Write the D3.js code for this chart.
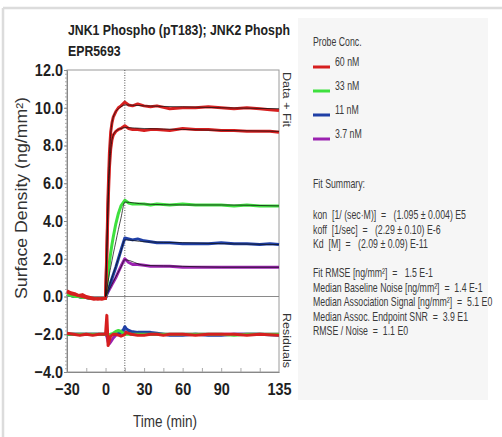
<!DOCTYPE html>
<html>
<head>
<meta charset="utf-8">
<script src="https://cdn.jsdelivr.net/npm/d3@7"></script>
<style>
  body { margin: 0; background: #fff; }
  text { font-family: "Liberation Sans", Arial, sans-serif; fill: #222; white-space: pre; }
  .tick text { font-weight: bold; font-size: 17px; fill: #1e1e1e; }
  .panel text { font-size: 12px; fill: #3a3a3a; }
</style>
</head>
<body>
<script>
// ---- data ----
const concs = ["60 nM", "33 nM", "11 nM", "3.7 nM"]
const colors = ["#d61f1f", "#3ee03e", "#1f3fa6", "#9b22b0"]

const tData = [-30, -27, -24, -21, -18, -15, -12, -9, -6, -3, 0, 1, 2, 3, 4, 5, 6, 8, 10, 12, 15,
  18, 21, 25, 30, 35, 40, 50, 60, 70, 80, 90, 100, 110, 120, 128, 135]
const red1 = [0.3, 0.2, 0.15, 0.05, 0.1, 0.0, -0.05, -0.1, -0.15, -0.1, -0.1, 2.5, 5.5, 7.6, 8.7, 9.2, 9.5, 9.8, 10.0, 10.1, 10.3,
  10.15, 10.1, 10.2, 10.1, 10.05, 10.1, 9.95, 10.0, 10.0, 10.05, 10.0, 9.95, 10.0, 9.95, 9.9, 9.85]
const red2 = [0.25, 0.15, 0.1, 0.05, 0.0, -0.05, -0.1, -0.15, -0.1, -0.15, -0.1, 2.2, 4.9, 6.8, 7.8, 8.3, 8.55, 8.75, 8.85, 8.9, 9.05,
  8.9, 8.85, 8.85, 8.8, 8.85, 8.85, 8.8, 8.9, 8.85, 8.85, 8.8, 8.8, 8.75, 8.75, 8.75, 8.7]
const green = [0.1, 0.05, 0.0, 0.0, -0.05, -0.05, -0.1, -0.1, -0.1, -0.1, -0.1, 0.6, 1.2, 1.8, 2.3, 2.75, 3.15, 3.85, 4.4, 4.8, 5.1,
  4.95, 4.9, 4.9, 4.9, 4.85, 4.9, 4.85, 4.9, 4.85, 4.85, 4.85, 4.8, 4.85, 4.8, 4.8, 4.8]
const blue = [0.1, 0.05, 0.0, 0.0, -0.05, -0.05, -0.1, -0.1, -0.1, -0.1, -0.1, 0.15, 0.35, 0.55, 0.75, 0.95, 1.15, 1.55, 2.0, 2.45, 3.1,
  3.05, 3.0, 3.05, 2.95, 2.9, 2.85, 2.85, 2.8, 2.8, 2.8, 2.85, 2.8, 2.8, 2.75, 2.8, 2.75]
const purple = [0.1, 0.05, 0.0, 0.0, -0.05, -0.05, -0.1, -0.1, -0.1, -0.1, -0.1, 0.12, 0.25, 0.38, 0.5, 0.63, 0.75, 1.0, 1.3, 1.6, 2.0,
  1.8, 1.7, 1.7, 1.65, 1.6, 1.6, 1.6, 1.55, 1.55, 1.55, 1.55, 1.55, 1.55, 1.55, 1.55, 1.55]

const tFit = [0, 1, 2, 3, 4, 5, 6, 8, 10, 12, 15, 30, 60, 90, 135]
const fitRed1 = [0, 2.6, 5.4, 7.4, 8.6, 9.2, 9.5, 9.8, 9.95, 10.05, 10.15, 10.1, 10.05, 10.0, 9.95]
const fitRed2 = [0, 2.3, 4.8, 6.6, 7.7, 8.3, 8.55, 8.75, 8.85, 8.9, 8.95, 8.9, 8.85, 8.8, 8.75]
const fitGreen = [0, 0.4, 0.8, 1.2, 1.55, 1.9, 2.25, 2.9, 3.55, 4.15, 5.0, 4.9, 4.85, 4.85, 4.8]
const fitBlue = [0, 0.2, 0.4, 0.6, 0.8, 1.0, 1.2, 1.6, 2.0, 2.4, 3.0, 2.9, 2.85, 2.8, 2.75]
const fitPurple = [0, 0.13, 0.26, 0.39, 0.52, 0.65, 0.78, 1.04, 1.3, 1.56, 1.95, 1.65, 1.6, 1.55, 1.55]

const tRes = [-30, -25, -20, -15, -10, -5, 0, 1, 2, 3, 4, 6, 8, 10, 12, 14, 15, 16, 18, 20, 25, 30, 35, 40, 45, 50,
  60, 70, 80, 90, 100, 110, 120, 135]
const resRed = [-1.95, -2.0, -2.05, -2.0, -2.05, -2.0, -2.0, -1.0, -2.6, -2.3, -2.1, -2.0, -2.0, -2.05, -2.1, -2.05, -2.0, -1.9,
  -1.95, -2.0, -2.05, -2.05, -2.0, -2.0, -2.05, -2.0, -2.0, -2.05, -2.0, -2.0, -2.0, -2.05, -2.0, -2.05]
const resGreen = [-2.0, -2.0, -2.0, -2.0, -2.0, -2.0, -2.0, -1.9, -2.0, -2.05, -2.0, -1.95, -1.85, -1.8, -1.85, -1.95, -2.0, -2.0,
  -2.0, -2.0, -2.0, -2.0, -2.0, -2.0, -2.0, -2.0, -2.0, -2.0, -2.0, -2.0, -2.05, -2.0, -2.0, -2.0]
const resBlue = [-2.0, -2.0, -2.0, -2.0, -2.0, -2.0, -2.0, -2.05, -2.1, -2.1, -2.05, -2.0, -2.0, -1.95, -1.9, -1.75, -1.6, -1.7,
  -1.8, -1.85, -1.9, -1.9, -1.9, -1.95, -2.0, -2.05, -2.05, -2.0, -2.05, -2.05, -2.0, -2.0, -2.0, -2.05]
const resPurple = [-2.0, -2.0, -2.0, -2.0, -2.0, -2.0, -2.0, -2.1, -2.4, -2.5, -2.4, -2.2, -2.05, -2.0, -1.95, -1.9, -1.85, -1.9,
  -1.95, -2.0, -2.0, -2.0, -2.0, -2.0, -2.0, -2.0, -2.0, -2.0, -2.0, -2.0, -2.0, -2.0, -2.0, -2.0]

const yTicks = [-4, -2, 0, 2, 4, 6, 8, 10, 12]
const xTicks = [-30, 0, 30, 60, 90, 135]
const titleLines = ["JNK1 Phospho (pT183); JNK2 Phosph", "EPR5693"]
const fitSummary = [
  "kon  [1/ (sec\u00b7M)]  =   (1.095 \u00b1 0.004) E5",
  "koff  [1/sec]  =   (2.29 \u00b1 0.10) E-6",
  "Kd  [M]  =   (2.09 \u00b1 0.09) E-11"
]
const fitStats = [
  "Fit RMSE [ng/mm\u00b2]  =   1.5 E-1",
  "Median Baseline Noise [ng/mm\u00b2]  =  1.4 E-1",
  "Median Association Signal [ng/mm\u00b2]  =  5.1 E0",
  "Median Assoc. Endpoint SNR  =  3.9 E1",
  "RMSE / Noise  =  1.1 E0"
]

// ---- drawing ----
let [w, h] = [502, 437]
var svg = d3.select("body").append("svg").attr("width", w).attr("height", h)

// narrow-font look: squeeze rendered text horizontally
function squeeze(sel, k) {
  sel.each(function () {
    var L = this.getComputedTextLength()
    d3.select(this).attr("textLength", L * k).attr("lengthAdjust", "spacingAndGlyphs")
  })
}
// same idea, done with a transform
function narrowText(g, tx, ty, str, k) {
  return g.append("text").attr("transform", `translate(${tx},${ty}) scale(${k},1)`).text(str)
}

// frame of the screenshot
svg.append("line").attr("x1", 3).attr("x2", w).attr("y1", 8).attr("y2", 8).attr("stroke", "#dcdcdc").attr("stroke-width", 2.5)
svg.append("line").attr("x1", 3).attr("x2", 3).attr("y1", 8).attr("y2", h).attr("stroke", "#dcdcdc").attr("stroke-width", 2.5)

// right panel background
svg.append("rect").attr("x", 298).attr("y", 18).attr("width", 190).attr("height", 382).attr("fill", "#f6f6f6")

var x = d3.scaleLinear().domain([-30, 135]).range([67, 279])
var y = d3.scaleLinear().domain([-4, 12]).range([372, 70])

// plot box + lines
svg.append("rect").attr("x", x(-30)).attr("y", y(12)).attr("width", x(135) - x(-30)).attr("height", y(-4) - y(12))
  .attr("fill", "none").attr("stroke", "#9a9a9a")
svg.append("line").attr("x1", x(-30)).attr("x2", x(135)).attr("y1", y(0)).attr("y2", y(0)).attr("stroke", "#8a8a8a")
svg.append("line").attr("x1", x(15)).attr("x2", x(15)).attr("y1", y(12)).attr("y2", y(-4))
  .attr("stroke", "#555").attr("stroke-dasharray", "1,1.5")

// axes
var yMinor = svg.append("g").attr("transform", `translate(${x(-30)},0)`)
  .call(d3.axisLeft(y).ticks(80).tickSize(2).tickFormat(""))
yMinor.selectAll("line").attr("stroke", "#aaa")
yMinor.select(".domain").remove()

var yAxis = svg.append("g").attr("transform", `translate(${x(-30)},0)`)
  .call(d3.axisLeft(y).tickValues(yTicks).tickSize(3).tickPadding(1).tickFormat(d3.format(".1f")))
yAxis.select(".domain").attr("stroke", "#888")
yAxis.selectAll("line").attr("stroke", "#888")
squeeze(yAxis.selectAll("text"), 0.85)

var xMinor = svg.append("g").attr("transform", `translate(0,${y(-4)})`)
  .call(d3.axisBottom(x).tickValues(d3.range(-15, 135, 15)).tickSize(-4).tickFormat(""))
xMinor.selectAll("line").attr("stroke", "#aaa")
xMinor.select(".domain").remove()

var xAxis = svg.append("g").attr("transform", `translate(0,${y(-4)})`)
  .call(d3.axisBottom(x).tickValues(xTicks).tickSize(0).tickPadding(11))
xAxis.select(".domain").attr("stroke", "#888")
squeeze(xAxis.selectAll("text"), 0.85)

// curves
var line = d3.line().x(d => x(d[0])).y(d => y(d[1]))
var fitLine = d3.line().x(d => x(d[0])).y(d => y(d[1])).curve(d3.curveMonotoneX)
var plot = svg.append("g")

var series = [
  { vals: purple, fit: fitPurple, res: resPurple, c: colors[3] },
  { vals: blue, fit: fitBlue, res: resBlue, c: colors[2] },
  { vals: green, fit: fitGreen, res: resGreen, c: colors[1] },
  { vals: red2, fit: fitRed2, res: null, c: colors[0] },
  { vals: red1, fit: fitRed1, res: resRed, c: colors[0] }
]

series.forEach(s => {
  if (s.res) plot.append("path").datum(d3.zip(tRes, s.res)).attr("d", line)
    .attr("fill", "none").attr("stroke", s.c).attr("stroke-width", 3).attr("stroke-linejoin", "round")
})
series.forEach(s => {
  plot.append("path").datum(d3.zip(tData, s.vals)).attr("d", line)
    .attr("fill", "none").attr("stroke", s.c).attr("stroke-width", 3).attr("stroke-linejoin", "round")
})
series.forEach(s => {
  plot.append("path").datum(d3.zip(tFit, s.fit)).attr("d", fitLine)
    .attr("fill", "none").attr("stroke", "#111").attr("stroke-width", 1).attr("opacity", 0.75)
})

// titles
titleLines.forEach((t, i) => {
  narrowText(svg, 68, 35 + i * 21, t, 0.82).style("font-size", "15px").style("font-weight", "bold")
})

svg.append("text").attr("transform", "translate(27,198) rotate(-90)").attr("text-anchor", "middle")
  .style("font-size", "16px").style("fill", "#333").text("Surface Density (ng/mm\u00b2)")
  .attr("textLength", 202).attr("lengthAdjust", "spacingAndGlyphs")
svg.append("text").attr("x", 165).attr("y", 427).attr("text-anchor", "middle")
  .style("font-size", "16px").style("fill", "#333").text("Time (min)")
  .attr("textLength", 64).attr("lengthAdjust", "spacingAndGlyphs")

svg.append("text").attr("transform", "translate(283,72) rotate(90)").style("font-size", "10.5px").style("fill", "#333")
  .text("Data + Fit").attr("textLength", 55).attr("lengthAdjust", "spacingAndGlyphs")
svg.append("text").attr("transform", "translate(283,313) rotate(90)").style("font-size", "10.5px").style("fill", "#333")
  .text("Residuals").attr("textLength", 55).attr("lengthAdjust", "spacingAndGlyphs")

// right panel texts
var k = 0.73
var panel = svg.append("g").attr("class", "panel")
narrowText(panel, 313, 46, "Probe Conc.", k)
concs.forEach((c, i) => {
  panel.append("line").attr("x1", 313).attr("x2", 330).attr("y1", 67 + i * 24).attr("y2", 67 + i * 24)
    .attr("stroke", colors[i]).attr("stroke-width", 3)
  narrowText(panel, 335, 66 + i * 24, c, k)
})
narrowText(panel, 313, 188, "Fit Summary:", k)
fitSummary.forEach((s, i) => narrowText(panel, 313, 219 + i * 14.5, s, k))
fitStats.forEach((s, i) => narrowText(panel, 313, 277 + i * 14.5, s, k))
</script>
</body>
</html>
